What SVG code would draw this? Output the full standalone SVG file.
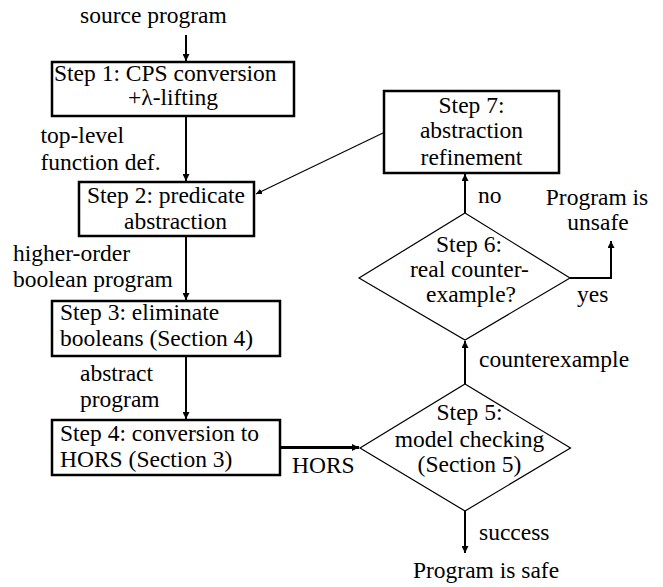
<svg xmlns="http://www.w3.org/2000/svg" width="663" height="587" viewBox="0 0 663 587">
<defs>
<marker id="ah" viewBox="0 0 10 10" refX="10" refY="5" markerWidth="6" markerHeight="7" markerUnits="userSpaceOnUse" orient="auto">
<path d="M0,0 L10,5 L0,10 z" fill="#000"/>
</marker>
<marker id="ah2" viewBox="0 0 10 10" refX="10" refY="5" markerWidth="9" markerHeight="7" markerUnits="userSpaceOnUse" orient="auto">
<path d="M0,0 L10,5 L0,10 z" fill="#000"/>
</marker>
</defs>
<style>
text{font-family:"Times New Roman",Times,"Liberation Serif",serif;font-size:23.5px;fill:#000}
.box{fill:#fff;stroke:#000;stroke-width:2.5}
.dia{fill:#fff;stroke:#000;stroke-width:1.2}
.c{text-anchor:middle}
.e{fill:none;stroke:#000;stroke-width:2}
.thin{fill:none;stroke:#000;stroke-width:1.1}
.thick{fill:none;stroke:#000;stroke-width:3}
</style>
<rect width="663" height="587" fill="#fff"/>
<g id="connectors">
<path class="e" d="M186,35 V61" marker-end="url(#ah2)"/>
<path class="e" d="M186,117 V181" marker-end="url(#ah2)"/>
<path class="e" d="M186,236 V300" marker-end="url(#ah2)"/>
<path class="e" d="M186,356 V419" marker-end="url(#ah2)"/>
<path class="thick" d="M281,447.5 H359" marker-end="url(#ah2)"/>
<path class="e" d="M465,511 V553" marker-end="url(#ah2)"/>
<path class="e" d="M465,384 V341" marker-end="url(#ah2)"/>
<path class="e" d="M465,213 V174" marker-end="url(#ah2)"/>
<path class="e" d="M570,278 H611 V241" marker-end="url(#ah2)"/>
<path class="thin" d="M383,133 L256,194" marker-end="url(#ah)"/>
<text x="292" y="473">HORS</text>
<text x="40.5" y="143">top-level</text>
<text x="40.5" y="170">function def.</text>
<text x="13" y="261">higher-order</text>
<text x="13" y="287">boolean program</text>
<text x="80" y="381">abstract</text>
<text x="80" y="407">program</text>
<text x="479" y="540">success</text>
<text x="479" y="367">counterexample</text>
<text x="478" y="203">no</text>
<text x="577" y="302">yes</text>
</g>
<g id="source"><text x="80" y="23">source program</text></g>
<g id="step1">
<rect class="box" x="52" y="62" width="242" height="54"/>
<text x="54" y="81">Step 1: CPS conversion</text>
<text x="128" y="105">+λ-lifting</text>
</g>
<g id="step2">
<rect class="box" x="79" y="182" width="175" height="54"/>
<text x="87" y="203">Step 2: predicate</text>
<text x="124" y="229">abstraction</text>
</g>
<g id="step3">
<rect class="box" x="52" y="301" width="228" height="55"/>
<text x="60" y="320">Step 3: eliminate</text>
<text x="60" y="346">booleans (Section 4)</text>
</g>
<g id="step4">
<rect class="box" x="52" y="420" width="228" height="55"/>
<text x="60" y="441">Step 4: conversion to</text>
<text x="60" y="467">HORS (Section 3)</text>
</g>
<g id="step5">
<polygon class="dia" points="465,384 570.5,448 465,511 360,448"/>
<text class="c" x="469.5" y="420">Step 5:</text>
<text class="c" x="469.5" y="447">model checking</text>
<text class="c" x="469.5" y="472">(Section 5)</text>
</g>
<g id="step6">
<polygon class="dia" points="465,213 570,278 465,340 359,278"/>
<text class="c" x="469" y="252">Step 6:</text>
<text class="c" x="469.5" y="277">real counter-</text>
<text class="c" x="471" y="302">example?</text>
</g>
<g id="step7">
<rect class="box" x="384" y="91" width="175" height="82"/>
<text class="c" x="471.5" y="113">Step 7:</text>
<text class="c" x="471.5" y="138">abstraction</text>
<text class="c" x="471.5" y="165">refinement</text>
</g>
<g id="unsafe">
<text class="c" x="597" y="205">Program is</text>
<text class="c" x="598" y="230">unsafe</text>
</g>
<g id="safe"><text class="c" x="486" y="578">Program is safe</text></g>
</svg>
